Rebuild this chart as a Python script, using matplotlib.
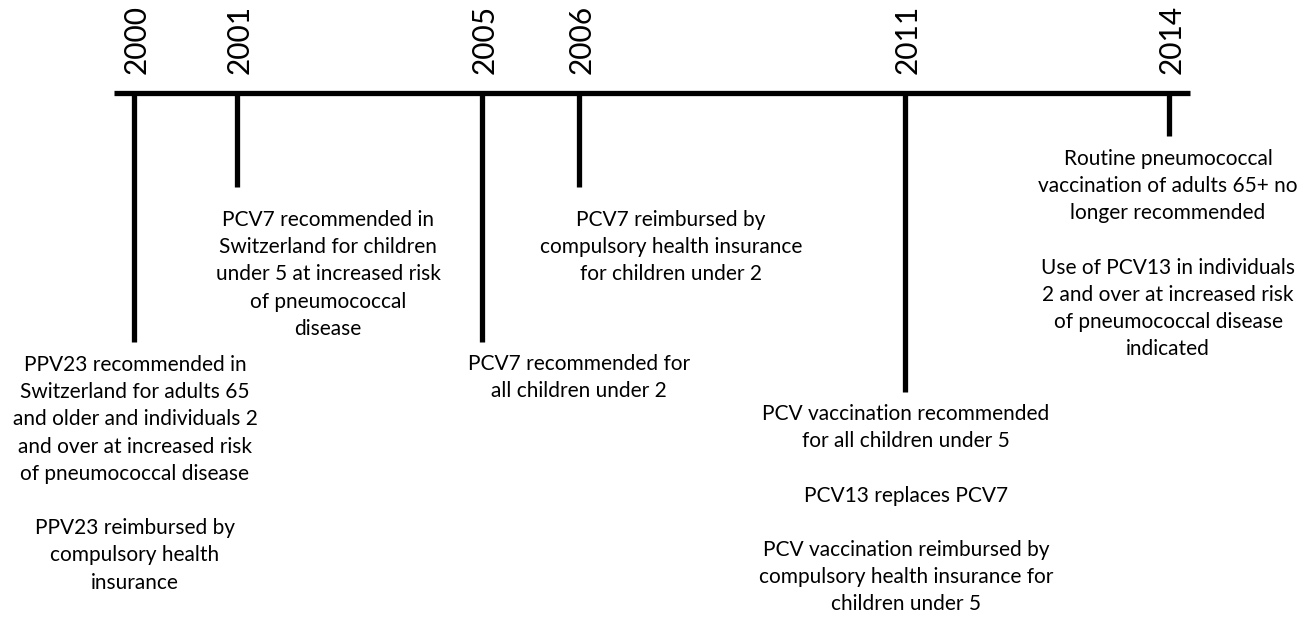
import matplotlib
matplotlib.use("Agg")
import matplotlib.pyplot as plt

# ---- data ----
years = ["2000", "2001", "2005", "2006", "2011", "2014"]
events = [
    "PPV23 recommended in\nSwitzerland for adults 65\nand older and individuals 2\nand over at increased risk\nof pneumococcal disease\n\nPPV23 reimbursed by\ncompulsory health\ninsurance",
    "PCV7 recommended in\nSwitzerland for children\nunder 5 at increased risk\nof pneumococcal\ndisease",
    "PCV7 recommended for\nall children under 2",
    "PCV7 reimbursed by\ncompulsory health insurance\nfor children under 2",
    "PCV vaccination recommended\nfor all children under 5\n\nPCV13 replaces PCV7\n\nPCV vaccination reimbursed by\ncompulsory health insurance for\nchildren under 5",
    "Routine pneumococcal\nvaccination of adults 65+ no\nlonger recommended\n\nUse of PCV13 in individuals\n2 and over at increased risk\nof pneumococcal disease\nindicated",
]

# ---- layout (pixel coordinates of the drawing) ----
W, H = 1310, 617
axis_y = 92.5
axis_x0, axis_x1 = 114, 1190
tick_x = [134, 237, 481.5, 579, 904.5, 1169]
tick_end = [342, 187, 342, 187, 392, 136]
text_cx = [135, 328, 579, 671, 906, 1168]
text_top = [355, 210, 354, 210, 404, 149]

plt.rcParams['font.family'] = ['Lato', 'DejaVu Sans']

fig = plt.figure(figsize=(W / 100, H / 100), dpi=100)
ax = fig.add_axes([0, 0, 1, 1])
ax.set_xlim(0, W)
ax.set_ylim(H, 0)
ax.axis("off")

lw = 3.8
ax.plot([axis_x0, axis_x1], [axis_y, axis_y], color="black", lw=lw, solid_capstyle="butt")
for x, yend, yr, txt, cx, top in zip(tick_x, tick_end, years, events, text_cx, text_top):
    ax.plot([x, x], [axis_y, yend], color="black", lw=lw, solid_capstyle="butt")
    ax.text(x + 3, 74, yr, rotation=90, ha="center", va="bottom", fontsize=21.5, color="black")
    ax.text(cx, top, txt, ha="center", va="top", fontsize=15, linespacing=1.45,
            color="black", multialignment="center")

fig.savefig("out.png", dpi=100)
